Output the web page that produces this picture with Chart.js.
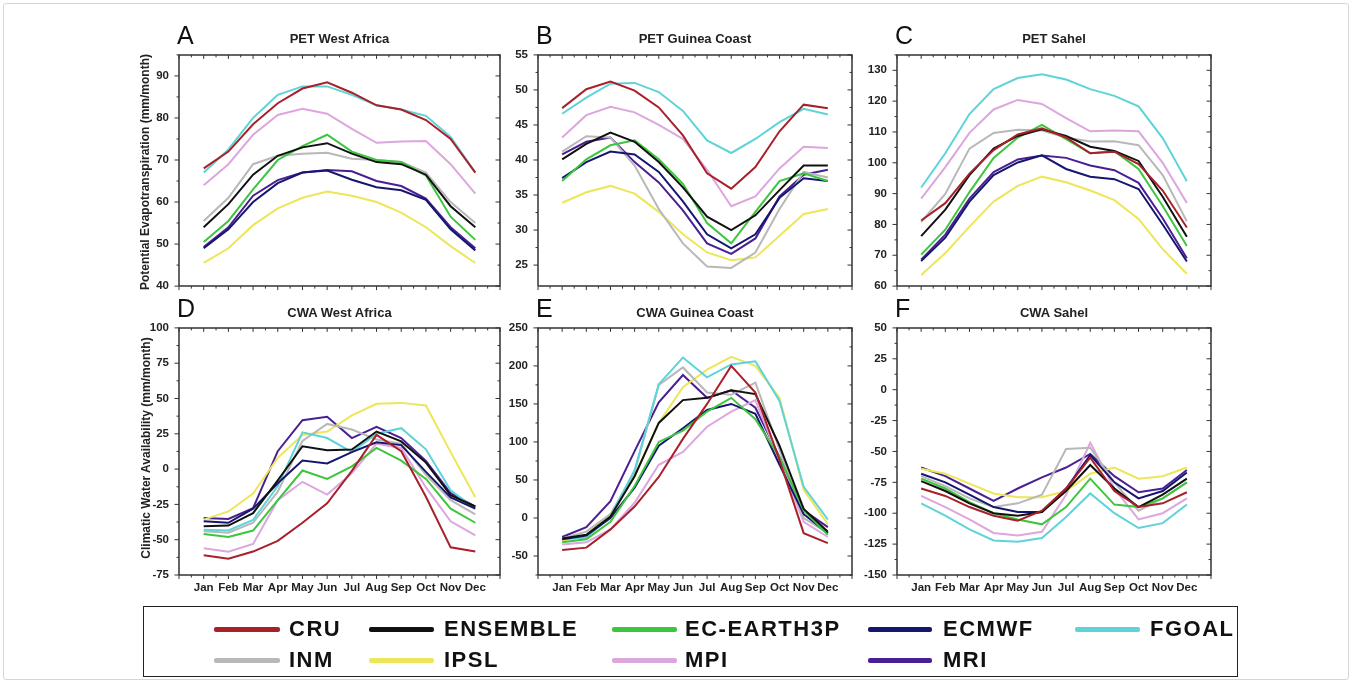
<!DOCTYPE html>
<html><head><meta charset="utf-8">
<script src="https://cdn.jsdelivr.net/npm/chart.js@4.4.1/dist/chart.umd.min.js"></script>
<style>
body{margin:0;background:#fff;width:1352px;height:683px;position:relative;overflow:hidden;font-family:"Liberation Sans",Arial,sans-serif;}
.frame{position:absolute;left:3px;top:3px;width:1344px;height:675px;border:1px solid #d6d6d6;border-radius:3px;}
.pc{position:absolute;}
.letter{position:absolute;font-size:25px;color:#111;line-height:1;}
.ptitle{position:absolute;font-size:13px;font-weight:bold;color:#222;text-align:center;line-height:1;white-space:nowrap;}
.ytitle{position:absolute;width:320px;height:14px;font-size:12px;font-weight:bold;color:#222;white-space:nowrap;text-align:center;line-height:14px;transform:rotate(-90deg);}
.legbox{position:absolute;left:143px;top:606px;width:1093px;height:69px;border:1.5px solid #222;}
.li{position:absolute;height:5px;border-radius:2px;}
.lt{position:absolute;font-weight:bold;color:#111;white-space:nowrap;}
</style></head><body>
<div class="frame"></div>
<script>
// ---------------- DATA ----------------
const months = ['Jan','Feb','Mar','Apr','May','Jun','Jul','Aug','Sep','Oct','Nov','Dec'];
const seriesNames = ['CRU','ENSEMBLE','EC-EARTH3P','ECMWF','FGOAL','INM','IPSL','MPI','MRI'];
const seriesColors = ['#a8202a','#111111','#3dc63d','#161670','#5ed3d8','#b8b8b8','#ece658','#dca6de','#4a1f94'];

// rows follow seriesNames order
const petWestAfrica = [
  [68, 72, 78.5, 83.5, 87, 88.5, 86, 83, 82, 79.5, 75, 67],        // CRU
  [54, 59.5, 66.5, 71, 73, 74, 71.5, 69.5, 69, 66.5, 59, 54],       // ENSEMBLE
  [50.5, 55.5, 63, 70, 73.3, 76, 72, 70, 69.5, 66.3, 56.5, 51],     // EC-EARTH3P
  [49, 53.5, 60, 64.5, 67, 67.5, 65.3, 63.5, 62.8, 60.5, 53.5, 48.5], // ECMWF
  [67, 72.5, 80, 85.5, 87.5, 87.5, 85.5, 83, 82, 80.5, 75.5, 67],   // FGOAL
  [55.5, 61, 69, 71, 71.5, 71.7, 70.3, 70, 69.5, 67, 60, 55],       // INM
  [45.5, 49, 54.5, 58.5, 61, 62.5, 61.5, 60, 57.5, 54, 49.5, 45.5], // IPSL
  [64, 69, 76, 80.7, 82.2, 81, 77.4, 74.1, 74.4, 74.5, 69, 62],     // MPI
  [49.3, 54, 61.5, 65.2, 67, 67.6, 67.3, 65, 63.8, 60.8, 54, 49]    // MRI
];
const petGuineaCoast = [
  [47.4, 50.1, 51.2, 49.9, 47.5, 43.5, 38.1, 35.9, 39, 44.1, 47.9, 47.4], // CRU
  [40.1, 42.3, 43.9, 42.6, 39.7, 36.1, 31.9, 30, 32.1, 35.7, 39.2, 39.2], // ENSEMBLE
  [37, 40.1, 42.1, 42.8, 40.1, 36.6, 31, 28.1, 32.6, 37, 38.1, 37],       // EC-EARTH3P
  [37.4, 39.7, 41.2, 40.8, 38.3, 34.1, 29.4, 27.4, 29.4, 34.6, 37.4, 37], // ECMWF
  [46.6, 48.9, 50.9, 51, 49.7, 47, 42.8, 41, 43, 45.4, 47.3, 46.5],       // FGOAL
  [41.2, 43.4, 43.2, 39.2, 33, 28.1, 24.8, 24.6, 26.8, 33, 38.3, 37.5],   // INM
  [33.9, 35.4, 36.3, 35.2, 32.6, 29.4, 26.8, 25.7, 26.1, 29.2, 32.3, 33], // IPSL
  [43.2, 46.4, 47.6, 46.8, 45, 43, 38.6, 33.4, 34.8, 38.8, 41.9, 41.7],   // MPI
  [40.8, 42.6, 43.2, 39.7, 36.8, 32.8, 28.1, 26.6, 28.8, 34.8, 37.9, 38.6] // MRI
];
const petSahel = [
  [81.3, 86.9, 96.5, 104.1, 109.2, 111.2, 108.2, 103.1, 103.6, 99.6, 91, 79],   // CRU
  [76.2, 84.8, 96, 104.6, 108.7, 110.9, 108.7, 105.2, 103.8, 100.6, 89, 76],    // ENSEMBLE
  [70.2, 78.3, 90.5, 101.6, 108.2, 112.3, 107.7, 103.1, 103.8, 98, 86, 73],     // EC-EARTH3P
  [68.1, 75.7, 87.4, 96, 100.1, 102.4, 98, 95.5, 94.7, 91.5, 80, 68],           // ECMWF
  [92, 103.1, 115.8, 123.9, 127.5, 128.7, 127, 123.9, 121.7, 118.3, 108, 94],   // FGOAL
  [80.8, 89.9, 104.6, 109.7, 110.7, 110.5, 108.2, 106.9, 107, 105.7, 96, 81],   // INM
  [63.6, 70.7, 79.3, 87.4, 92.5, 95.5, 93.7, 91, 87.9, 81.8, 72, 64],           // IPSL
  [88.4, 98.6, 109.7, 117.3, 120.4, 119.1, 114.5, 110.2, 110.5, 110.2, 100, 87], // MPI
  [68.6, 76.7, 88.4, 97, 101.1, 102.4, 101.6, 99.1, 97.6, 93.5, 82, 69]         // MRI
];
const cwaWestAfrica = [
  [-61, -63.5, -58.4, -50.8, -38, -24.2, -1.2, 24.2, 12.7, -19.6, -55.4, -58.4], // CRU
  [-40.4, -40, -31.2, -8, 16.2, 13.4, 13.9, 26.6, 19.6, 4.6, -18.5, -26.5],      // ENSEMBLE
  [-46, -48, -43.5, -22, -1, -7, 2, 15, 6, -7, -28, -38],                       // EC-EARTH3P
  [-37, -38, -28, -10, 6, 4, 12, 19, 17, -2, -20, -28],                         // ECMWF
  [-43, -43.5, -36, -12, 26, 22, 12, 25, 29, 14, -15, -28],                     // FGOAL
  [-44, -45, -38, -16, 20, 32, 28, 21, 18, -4, -22, -32],                       // INM
  [-35.8, -30, -17.3, 8, 24.2, 26.6, 38, 46.2, 46.9, 45, 12, -20],              // IPSL
  [-56, -58.5, -53, -22, -9, -18, -3, 18, 15, -13, -37, -47],                   // MPI
  [-34.6, -35.3, -27.7, 12.7, 34.6, 37, 22, 30, 22, 5.8, -17, -26.5]            // MRI
];
const cwaGuineaCoast = [
  [-42, -39, -15, 15, 54, 104, 150, 200, 165, 76, -20, -33],   // CRU
  [-27, -22, 2, 55, 125, 155, 158, 168, 163, 95, 12, -18],     // ENSEMBLE
  [-32, -28, -5, 42, 100, 115, 140, 158, 130, 80, 10, -22],    // EC-EARTH3P
  [-28, -23, 0, 40, 95, 118, 142, 150, 137, 70, 5, -20],       // ECMWF
  [-28, -26, 2, 63, 176, 211, 185, 202, 206, 154, 41, -2],     // FGOAL
  [-27, -18, 5, 60, 175, 198, 165, 162, 178, 90, 0, -20],      // INM
  [-30, -22, 5, 55, 125, 172, 195, 212, 200, 158, 37, -8],     // IPSL
  [-35, -32, -15, 20, 70, 87, 120, 140, 155, 75, -5, -25],     // MPI
  [-25, -12, 22, 88, 152, 188, 158, 168, 145, 80, 10, -12]     // MRI
];
const cwaSahel = [
  [-80, -86, -95, -102, -106, -98, -80, -55, -82, -95, -92, -83],     // CRU
  [-74, -82, -92, -100, -102, -99, -82, -61, -80, -95, -85, -72],     // ENSEMBLE
  [-72, -80, -91, -100, -105, -109, -95, -72, -93, -95, -88, -75],    // EC-EARTH3P
  [-68, -75, -85, -95, -99, -99, -80, -53, -75, -88, -82, -67],       // ECMWF
  [-92, -102, -113, -122, -123, -120, -103, -84, -100, -112, -108, -93], // FGOAL
  [-70, -78, -88, -95, -92, -85, -48, -47, -75, -98, -88, -75],       // INM
  [-64, -68, -76, -84, -87, -87, -82, -68, -63, -72, -70, -63],       // IPSL
  [-86, -95, -105, -116, -118, -115, -85, -43, -80, -105, -100, -88], // MPI
  [-63, -70, -80, -90, -80, -71, -63, -52, -70, -83, -80, -65]        // MRI
];

// ---------------- LAYOUT ----------------
const panels = [
  {vals: petWestAfrica,  min:40,   max:95,  major:10, minor:5,    x0:179, x1:500,  y0:48,  y1:295, labels:false, letter:'A', title:'PET West Africa'},
  {vals: petGuineaCoast, min:22,   max:55,  major:5,  minor:2.5,  x0:538, x1:852,  y0:48,  y1:295, labels:false, letter:'B', title:'PET Guinea Coast'},
  {vals: petSahel,       min:60,   max:135, major:10, minor:5,    x0:897, x1:1211, y0:48,  y1:295, labels:false, letter:'C', title:'PET Sahel'},
  {vals: cwaWestAfrica,  min:-75,  max:100, major:25, minor:12.5, x0:179, x1:500,  y0:321, y1:575, labels:true,  letter:'D', title:'CWA West Africa'},
  {vals: cwaGuineaCoast, min:-75,  max:250, major:50, minor:25,   x0:538, x1:852,  y0:321, y1:575, labels:true,  letter:'E', title:'CWA Guinea Coast'},
  {vals: cwaSahel,       min:-150, max:50,  major:25, minor:12.5, x0:897, x1:1211, y0:321, y1:575, labels:true,  letter:'F', title:'CWA Sahel'}
];

// detect an installed narrow bold face (Arial Narrow metrics)
const hasNarrow = (() => {
  const c = document.createElement('canvas').getContext('2d');
  c.font = 'bold 20px monospace';
  const a = c.measureText('Jan Feb Mar ENSEMBLE').width;
  c.font = 'bold 20px "Liberation Sans Narrow", monospace';
  const b = c.measureText('Jan Feb Mar ENSEMBLE').width;
  return Math.abs(a - b) > 1;
})();
const NARROW = '"Liberation Sans Narrow", "Liberation Sans", Arial, sans-serif';
const TICKFONT = hasNarrow ? {family: NARROW, size: 13.5, weight: 'bold'}
                           : {family: '"Liberation Sans", Arial, sans-serif', size: 11.5, weight: 'bold'};

const isMult = (v, s) => Math.abs(v / s - Math.round(v / s)) < 1e-6;

function addDiv(cls, text, css) {
  const d = document.createElement('div');
  d.className = cls; d.textContent = text;
  Object.assign(d.style, css);
  document.body.appendChild(d);
  return d;
}

function makePanel(p) {
  const YW = 42, PT = 10, PR = 8, XH = p.labels ? 26 : 8;
  const W = YW + (p.x1 - p.x0) + PR, H = PT + (p.y1 - p.y0) + XH;
  const wrap = document.createElement('div');
  wrap.className = 'pc';
  Object.assign(wrap.style, {left:(p.x0 - YW) + 'px', top:(p.y0 - PT) + 'px', width:W + 'px', height:H + 'px'});
  const cv = document.createElement('canvas');
  cv.width = W; cv.height = H;
  cv.style.width = W + 'px'; cv.style.height = H + 'px';
  wrap.appendChild(cv);
  document.body.appendChild(wrap);

  const framePlugin = {
    id: 'frame' + p.letter,
    afterDraw(chart) {
      const {ctx, chartArea: a, scales: {x, y}} = chart;
      ctx.save();
      ctx.strokeStyle = '#333';
      ctx.lineWidth = 1.5;
      ctx.beginPath();
      ctx.moveTo(a.left, a.bottom); ctx.lineTo(a.left, a.top); ctx.lineTo(a.right, a.top);
      ctx.lineTo(a.right, a.bottom); ctx.lineTo(a.left, a.bottom);
      ctx.stroke();
      ctx.lineWidth = 1;
      ctx.beginPath();
      x.ticks.forEach(t => {
        const px = x.getPixelForValue(t.value);
        const L = isMult(t.value, 1) ? 4 : 2.5;
        ctx.moveTo(px, a.top); ctx.lineTo(px, a.top + L);
        ctx.moveTo(px, a.bottom); ctx.lineTo(px, a.bottom + L);
      });
      y.ticks.forEach(t => {
        const py = y.getPixelForValue(t.value);
        const L = isMult(t.value, p.major) ? 4.5 : 2.5;
        ctx.moveTo(a.right, py); ctx.lineTo(a.right - L, py);
        ctx.moveTo(a.left, py); ctx.lineTo(a.left - L, py);
      });
      ctx.stroke();
      ctx.restore();
    }
  };

  new Chart(cv, {
    type: 'line',
    data: {
      datasets: seriesNames.map((n, i) => ({
        label: n,
        data: p.vals[i].map((v, j) => ({x: j + 1, y: v})),
        borderColor: seriesColors[i],
        backgroundColor: seriesColors[i],
        borderWidth: 2,
        pointRadius: 0,
        tension: 0,
        fill: false
      }))
    },
    options: {
      responsive: false, animation: false, events: [],
      layout: {padding: {top: PT, right: PR, left: 0, bottom: 0}},
      plugins: {legend: {display: false}, tooltip: {enabled: false}},
      scales: {
        x: {
          type: 'linear', min: 0, max: 13,
          ticks: {stepSize: 0.5, autoSkip: false, maxRotation: 0, display: p.labels, padding: 6,
            font: TICKFONT, color: '#222',
            callback: v => (isMult(v, 1) && v >= 1 && v <= 12) ? months[Math.round(v) - 1] : ''},
          grid: {display: true, drawOnChartArea: false, drawTicks: false},
          border: {display: false},
          afterFit: s => { s.height = XH; }
        },
        y: {
          type: 'linear', min: p.min, max: p.max,
          ticks: {stepSize: p.minor, autoSkip: false, padding: 10, font: TICKFONT, color: '#222',
            callback: v => isMult(v, p.major) ? String(v) : ''},
          afterBuildTicks: s => { s.ticks = s.ticks.filter(t => isMult(t.value, p.minor)); },
          grid: {display: true, drawOnChartArea: false, drawTicks: false},
          border: {display: false},
          afterFit: s => { s.width = YW; }
        }
      }
    },
    plugins: [framePlugin]
  });

  // panel letter and title
  const top = p.y0 < 100;
  addDiv('letter', p.letter, {left:(p.x0 - 2) + 'px', top:(top ? 23 : 296) + 'px'});
  addDiv('ptitle', p.title, {left:p.x0 + 'px', width:(p.x1 - p.x0) + 'px', top:(top ? 32 : 306) + 'px'});
}

panels.forEach(makePanel);

// y axis titles
addDiv('ytitle', 'Potential Evapotranspiration (mm/month)', {left:(145 - 160) + 'px', top:(172 - 7) + 'px'});
addDiv('ytitle', 'Climatic Water Availability (mm/month)', {left:(146 - 160) + 'px', top:(448 - 7) + 'px'});

// legend
addDiv('legbox', '', {});
const legCols = [[214, 280, 289], [369, 434, 444], [612, 677, 685], [868, 932, 943], [1075, 1140, 1150]];
const legRows = [629, 660];
const legFont = hasNarrow
  ? {fontFamily: NARROW, fontSize: '25px', letterSpacing: '2.5px', lineHeight: '25px', dy: 12.5}
  : {fontFamily: '"Liberation Sans", Arial, sans-serif', fontSize: '22px', letterSpacing: '1.5px', lineHeight: '22px', dy: 11};
seriesNames.forEach((n, i) => {
  const r = i < 5 ? 0 : 1, c = i < 5 ? i : i - 5;
  const [l0, l1, t0] = legCols[c];
  const y = legRows[r];
  addDiv('li', '', {left:l0 + 'px', width:(l1 - l0) + 'px', top:(y - 2.5) + 'px', background:seriesColors[i]});
  addDiv('lt', n, {left:t0 + 'px', top:(y - legFont.dy) + 'px', fontFamily: legFont.fontFamily,
    fontSize: legFont.fontSize, letterSpacing: legFont.letterSpacing, lineHeight: legFont.lineHeight});
});
</script>
</body></html>
